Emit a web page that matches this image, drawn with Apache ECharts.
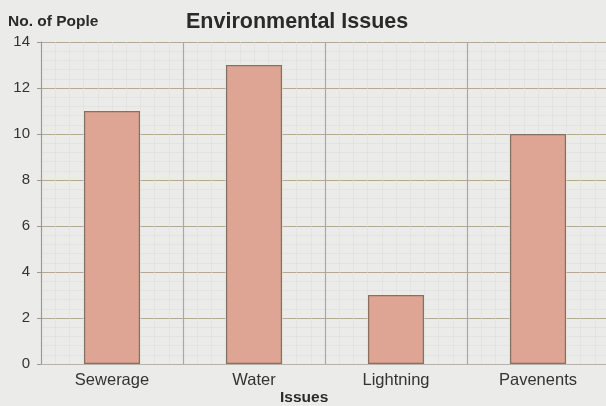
<!DOCTYPE html>
<html><head><meta charset="utf-8">
<script src="https://cdn.jsdelivr.net/npm/echarts@6/dist/echarts.min.js"></script>
<style>html,body{margin:0;padding:0;background:#ebebe9;}#c{width:606px;height:406px;}</style>
</head><body><div id="c"></div>
<script>
const categories = ["Sewerage", "Water", "Lightning", "Pavenents"];
const people = [11, 13, 3, 10];
const yTicks = [0, 2, 4, 6, 8, 10, 12, 14];

const chart = echarts.init(document.getElementById('c'));
const font = '"Liberation Sans", Arial, sans-serif';
chart.setOption({
  backgroundColor: '#ebebe9',
  animation: false,
  title: [
    { text: 'Environmental Issues', left: 181, top: 6,
      textStyle: { fontFamily: font, fontSize: 21.5, fontWeight: 'bold', color: '#2a2a2a' } },
    { text: 'No. of Pople', left: 3, top: 9,
      textStyle: { fontFamily: font, fontSize: 15.5, fontWeight: 'bold', color: '#2a2a2a' } },
    { text: 'Issues', left: 275, top: 385,
      textStyle: { fontFamily: font, fontSize: 15.5, fontWeight: 'bold', color: '#2a2a2a' } }
  ],
  grid: { left: 41, right: -3, top: 42, bottom: 42, containLabel: false, outerBoundsMode: 'none' },
  xAxis: [{
    type: 'category', data: categories,
    axisLine: { show: true, lineStyle: { color: '#b6b2aa', width: 1 } },
    axisTick: { show: false },
    axisLabel: { fontFamily: font, fontSize: 16.5, color: '#333', margin: 8 },
    splitLine: { show: true, lineStyle: { color: '#a9a8a2', width: 1.2 } }
  }, {
    type: 'value', min: 0, max: 4, interval: 1, show: true, position: 'top',
    axisLine: { show: false }, axisTick: { show: false }, axisLabel: { show: false },
    splitLine: { show: false },
    minorTick: { show: false, splitNumber: 10 },
    minorSplitLine: { show: true, lineStyle: { color: '#dededa', width: 0.6 } }
  }],
  yAxis: {
    type: 'value', min: 0, max: 14, interval: 2,
    axisLine: { show: true, lineStyle: { color: '#9a9892', width: 1 } },
    axisTick: { show: true, length: 4, lineStyle: { color: '#9a9892' } },
    axisLabel: { fontFamily: font, fontSize: 15, color: '#333', margin: 11,
      formatter: v => yTicks.includes(v) ? String(v) : '' },
    splitLine: { show: true, lineStyle: { color: '#bba690', width: 1 } },
    minorTick: { show: false, splitNumber: 5 },
    minorSplitLine: { show: true, lineStyle: { color: '#dededa', width: 0.6 } }
  },
  series: [{
    type: 'bar', data: people, barWidth: 56, xAxisIndex: 0,
    itemStyle: { color: '#dea595', borderColor: '#86705f', borderWidth: 1.2 }
  }]
});
</script></body></html>
